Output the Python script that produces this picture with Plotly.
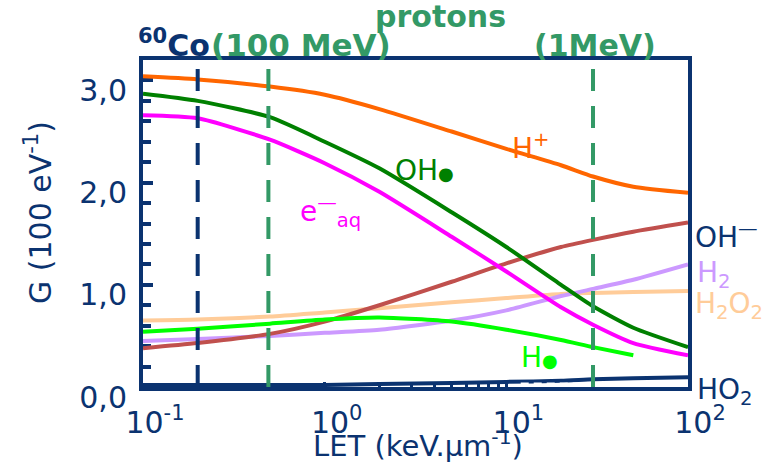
import plotly.graph_objects as go

# Linear energy transfer (keV/um) at which the yields are given
let_grid = [0.1, 0.2, 0.5, 1, 2, 5, 10, 20, 30, 50, 100]

# Radiolytic yields G (molecules / 100 eV) of each species
g_h_plus = [3.04, 3.01, 2.94, 2.86, 2.72, 2.50, 2.33, 2.17, 2.06, 1.96, 1.90]
g_oh_radical = [2.87, 2.80, 2.64, 2.40, 2.14, 1.71, 1.37, 1.00, 0.79, 0.58, 0.39]
g_e_aq = [2.66, 2.63, 2.42, 2.19, 1.91, 1.47, 1.13, 0.78, 0.61, 0.43, 0.31]
g_oh_minus = [0.38, 0.43, 0.52, 0.64, 0.80, 1.03, 1.21, 1.37, 1.44, 1.52, 1.61]
g_h2o2 = [0.65, 0.66, 0.69, 0.73, 0.77, 0.83, 0.87, 0.91, 0.92, 0.93, 0.94]
g_h2 = [0.45, 0.47, 0.50, 0.53, 0.56, 0.65, 0.75, 0.89, 0.96, 1.05, 1.20]
g_ho2 = [0.02, 0.02, 0.02, 0.02, 0.03, 0.04, 0.05, 0.06, 0.075, 0.085, 0.095]

# H radical yield is only given up to 50 keV/um
let_h = [0.1, 0.2, 0.5, 1, 2, 5, 10, 20, 30, 50]
g_h_radical = [0.54, 0.57, 0.62, 0.66, 0.68, 0.64, 0.56, 0.46, 0.39, 0.31]

# HO2 overlay segment (white dashes)
let_ho2_dash = [12, 100]
g_ho2_dash = [0.035, 0.035]

# Reference radiations (LET in keV/um)
co60_let = 0.2
proton_100mev_let = 0.49
proton_1mev_let = 30

# Axis ticks
x_tick_vals = [0.1, 1, 10, 100]
x_tick_text = ["10<sup>-1</sup>", "10<sup>0</sup>", "10<sup>1</sup>", "10<sup>2</sup>"]
x_minor_vals = [0.2, 0.3, 0.4, 0.5, 0.6, 0.7, 0.8, 0.9, 2, 3, 4, 5, 6, 7, 8, 9]
y_tick_vals = [0, 1, 2, 3]
y_tick_text = ["0,0", "1,0", "2,0", "3,0"]

NAVY = "#0b3370"
PROTON_GREEN = "#339966"
FONT = "DejaVu Sans"

W, H = 783, 465
ML, MR, MT, MB = 143, 95, 60, 78
PW, PH = W - ML - MR, H - MT - MB


def at(px, py):
    """Figure-pixel position -> paper coordinates."""
    return (px - ML) / PW, (H - MB - py) / PH


fig = go.Figure()

series = [
    (let_grid, g_h2o2, "#ffcc99", "H2O2"),
    (let_grid, g_h2, "#cc99ff", "H2"),
    (let_grid, g_oh_minus, "#c0504d", "OH-"),
    (let_h, g_h_radical, "#00ff00", "H"),
    (let_grid, g_e_aq, "#ff00ff", "e-aq"),
    (let_grid, g_oh_radical, "#008000", "OH"),
    (let_grid, g_h_plus, "#ff6600", "H+"),
    (let_grid, g_ho2, NAVY, "HO2"),
]
for xs, ys, color, name in series:
    fig.add_trace(go.Scatter(
        x=xs, y=ys, mode="lines", name=name,
        line=dict(color=color, width=4, shape="spline", smoothing=0.6),
        showlegend=False, hoverinfo="skip",
    ))

fig.add_trace(go.Scatter(
    x=let_ho2_dash, y=g_ho2_dash, mode="lines",
    line=dict(color="white", width=2, dash="8px,5px"),
    showlegend=False, hoverinfo="skip",
))

# Reference radiation markers
dash_pattern = "22px,15px"
fig.add_vline(x=co60_let, line=dict(color=NAVY, width=4, dash=dash_pattern))
for x in (proton_100mev_let, proton_1mev_let):
    fig.add_vline(x=x, line=dict(color=PROTON_GREEN, width=4, dash=dash_pattern))

annotations = []


def label(text, px, py, color, size=28, xanchor="left", yanchor="middle", angle=0):
    x, y = at(px, py)
    annotations.append(dict(
        text=text, x=x, y=y, xref="paper", yref="paper",
        xanchor=xanchor, yanchor=yanchor, showarrow=False, textangle=angle,
        font=dict(family=FONT, size=size, color=color),
    ))


# Radiation labels above the frame
label("<b><sup>60</sup>Co</b>", 174, 44, NAVY, size=30, xanchor="center")
label("<b>(100 MeV)</b>", 301, 45, PROTON_GREEN, size=31, xanchor="center")
label("<b>protons</b>", 440, 17, PROTON_GREEN, size=30, xanchor="center")
label("<b>(1MeV)</b>", 595, 46, PROTON_GREEN, size=30, xanchor="center")

# Species labels
label("H<sup>+</sup>", 510, 146, "#ff6600")
label("OH<span style='font-size:18px'>●</span>", 393, 170, "#008000")
label("e<sup>—</sup><sub>aq</sub>", 298, 212, "#ff00ff")
label("H<span style='font-size:18px'>●</span>", 519, 357, "#00ff00")
label("OH<sup>—</sup>", 693, 236, NAVY)
label("H<sub>2</sub>", 695, 274, "#cc99ff")
label("H<sub>2</sub>O<sub>2</sub>", 693, 305, "#ffcc99")
label("HO<sub>2</sub>", 695, 391, NAVY)

# Axis titles
label("G (100 eV<sup>-1</sup>)", 38, 213, NAVY, size=30, xanchor="center", angle=-90)
label("LET (keV.μm<sup>-1</sup>)", 418, 444, NAVY, size=29, xanchor="center")

fig.update_layout(
    width=W, height=H,
    margin=dict(l=ML, r=MR, t=MT, b=MB, autoexpand=False),
    paper_bgcolor="white", plot_bgcolor="white",
    font=dict(family=FONT, color=NAVY),
    annotations=annotations,
    showlegend=False,
)

fig.update_xaxes(
    type="log", range=[-1, 2],
    showgrid=False, zeroline=False,
    showline=True, linecolor=NAVY, linewidth=4, mirror=True,
    ticks="inside", ticklen=5, tickwidth=3, tickcolor=NAVY,
    tickvals=x_tick_vals, ticktext=x_tick_text,
    tickfont=dict(family=FONT, size=30, color=NAVY),
    ticklabelshift=12, ticklabelstandoff=6,
    minor=dict(ticks="inside", ticklen=4, tickwidth=3, tickcolor=NAVY,
               tickvals=x_minor_vals),
    layer="below traces",
)
fig.update_yaxes(
    range=[0, 3.2],
    showgrid=False, zeroline=False,
    showline=True, linecolor=NAVY, linewidth=4, mirror=True,
    ticks="inside", ticklen=10, tickwidth=4, tickcolor=NAVY,
    tickvals=y_tick_vals, ticktext=y_tick_text,
    tickfont=dict(family=FONT, size=30, color=NAVY),
    ticklabelshift=10, ticklabelstandoff=6,
    minor=dict(ticks="inside", dtick=0.2, ticklen=8, tickwidth=4, tickcolor=NAVY),
    layer="below traces",
)

fig.write_html("out.html")
